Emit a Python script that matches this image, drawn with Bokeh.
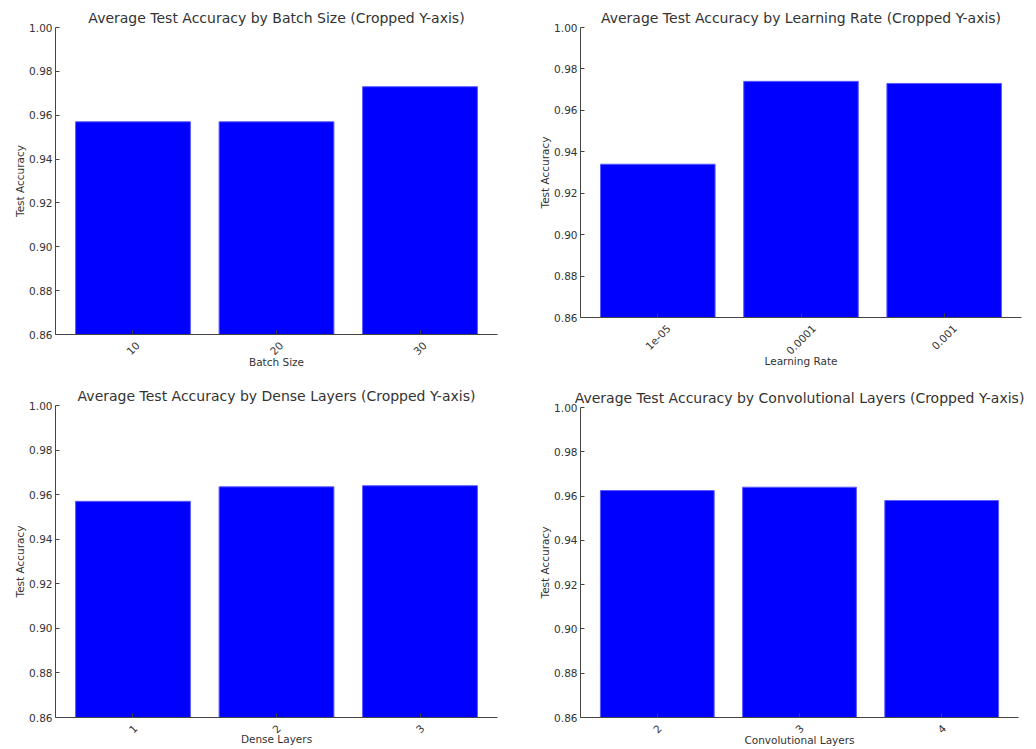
from bokeh.plotting import figure
from bokeh.layouts import column, row
from bokeh.models import Range1d, FixedTicker, PrintfTickFormatter, LinearAxis
from bokeh.embed import file_html
from bokeh.resources import INLINE
import math

# Average test accuracy per hyper-parameter setting
batch_sizes = ["10", "20", "30"]
batch_acc = [0.957, 0.957, 0.973]

learning_rates = ["1e-05", "0.0001", "0.001"]
lr_acc = [0.934, 0.974, 0.973]

dense_layers = ["1", "2", "3"]
dense_acc = [0.957, 0.9635, 0.964]

conv_layers = ["2", "3", "4"]
conv_acc = [0.9625, 0.964, 0.958]

y_ticks = [0.86, 0.88, 0.90, 0.92, 0.94, 0.96, 0.98, 1.00]

FONT = "DejaVu Sans"
TEXT = "#333333"
AXIS = "#444444"
LABEL_PX = 10.5
X_START, X_END = -0.54, 2.54

# rough DejaVu Sans advance widths (em) used to centre the slanted tick labels
CHAR_EM = {".": 0.318, "e": 0.615, "-": 0.361}


def text_width(s):
    return sum(CHAR_EM.get(c, 0.636) for c in s) * LABEL_PX


def style_text(ax):
    ax.major_label_text_font = FONT
    ax.major_label_text_font_size = f"{LABEL_PX}px"
    ax.major_label_text_color = TEXT
    ax.axis_label_text_font = FONT
    ax.axis_label_text_font_size = f"{LABEL_PX}px"
    ax.axis_label_text_font_style = "normal"
    ax.axis_label_text_color = TEXT


def bar_panel(labels, values, name, width, height, borders, xlabel_standoff, title_standoff):
    left, right, top, bottom = borders
    p = figure(width=width, height=height, output_backend="svg",
               toolbar_location=None, frame_align=False,
               x_range=Range1d(X_START, X_END), y_range=Range1d(0.86, 1.00),
               min_border_left=left, min_border_right=right,
               min_border_top=top, min_border_bottom=bottom)
    xs = list(range(len(labels)))
    p.vbar(x=xs, top=values, bottom=0, width=0.8,
           fill_color="#0000ff", line_color="#5a5aff", line_width=1)

    p.title.text = f"Average Test Accuracy by {name} (Cropped Y-axis)"
    p.title.align = "center"
    p.title.text_font = FONT
    p.title.text_font_size = "14px"
    p.title.text_font_style = "normal"
    p.title.text_color = TEXT
    p.title.standoff = title_standoff

    # x spine with inward ticks at the bar centres
    xa = p.xaxis[0]
    xa.ticker = FixedTicker(ticks=xs)
    xa.major_label_text_font_size = "0px"
    xa.major_label_text_color = None
    xa.major_label_standoff = 0

    # slanted category names, nudged so each one is centred under its bar
    px_per_unit = (width - left - right) / (X_END - X_START)
    shifted = [round(i + text_width(lab) / 2 * math.cos(math.pi / 4) / px_per_unit, 4)
               for i, lab in enumerate(labels)]
    names = LinearAxis(ticker=FixedTicker(ticks=shifted),
                       major_label_overrides={s: lab for s, lab in zip(shifted, labels)},
                       major_label_orientation=math.pi / 4,
                       major_label_standoff=3,
                       axis_line_color=None, major_tick_line_color=None,
                       minor_tick_line_color=None,
                       axis_label=name, axis_label_standoff=xlabel_standoff)
    style_text(names)
    p.add_layout(names, "below")

    p.yaxis.ticker = FixedTicker(ticks=y_ticks)
    p.yaxis.formatter = PrintfTickFormatter(format="%.2f")
    p.yaxis.axis_label = "Test Accuracy"
    p.yaxis.major_label_standoff = 3
    p.yaxis.axis_label_standoff = 0
    style_text(p.yaxis[0])

    for ax in (xa, p.yaxis[0]):
        ax.axis_line_color = AXIS
        ax.major_tick_line_color = AXIS
        ax.major_tick_in = 4
        ax.major_tick_out = 0
        ax.minor_tick_line_color = None

    p.xgrid.grid_line_color = None
    p.ygrid.grid_line_color = None
    p.outline_line_color = None
    p.background_fill_color = "white"
    p.border_fill_color = "white"
    return p


p1 = bar_panel(batch_sizes, batch_acc, "Batch Size", 518, 374, (55, 21, 27, 40), -6, 3)
p2 = bar_panel(learning_rates, lr_acc, "Learning Rate", 518, 374, (62, 15, 27, 57), -6, 3)
p3 = bar_panel(dense_layers, dense_acc, "Dense Layers", 518, 375, (55, 21, 31, 32), -7, 4)
p4 = bar_panel(conv_layers, conv_acc, "Convolutional Layers", 518, 375, (62, 18, 33, 32), -6, 4)

layout = column(row(p1, p2), row(p3, p4))
open("out.html", "w").write(file_html(layout, INLINE))
